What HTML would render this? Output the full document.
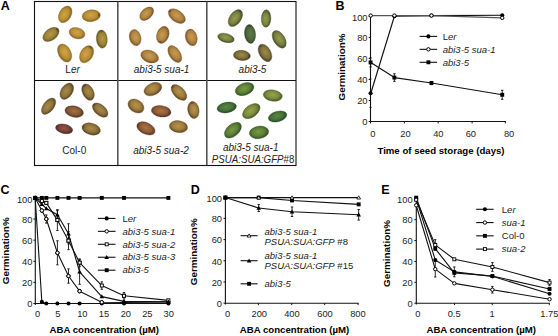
<!DOCTYPE html>
<html><head><meta charset="utf-8"><style>
html,body{margin:0;padding:0;background:#fff;width:558px;height:336px;overflow:hidden}
svg{display:block}
text{font-family:"Liberation Sans",sans-serif}
</style></head><body>
<svg width="558" height="336" viewBox="0 0 558 336" font-family="Liberation Sans, sans-serif"><defs>
<radialGradient id="g_ler" cx="0.48" cy="0.45" r="0.55"><stop offset="0" stop-color="#d2a448"/><stop offset="0.6" stop-color="#b88e36"/><stop offset="0.9" stop-color="#8a6a26"/><stop offset="1" stop-color="#8a6a26"/></radialGradient>
<radialGradient id="g_ler_o" cx="0.48" cy="0.45" r="0.55"><stop offset="0" stop-color="#b49a46"/><stop offset="0.6" stop-color="#9a8238"/><stop offset="0.9" stop-color="#6e5c28"/><stop offset="1" stop-color="#6e5c28"/></radialGradient>
<radialGradient id="g_sua1" cx="0.48" cy="0.45" r="0.55"><stop offset="0" stop-color="#c89c54"/><stop offset="0.6" stop-color="#b08440"/><stop offset="0.9" stop-color="#825a2c"/><stop offset="1" stop-color="#825a2c"/></radialGradient>
<radialGradient id="g_abi" cx="0.48" cy="0.45" r="0.55"><stop offset="0" stop-color="#969c4c"/><stop offset="0.6" stop-color="#788040"/><stop offset="0.9" stop-color="#4c542e"/><stop offset="1" stop-color="#4c542e"/></radialGradient>
<radialGradient id="g_abi_g" cx="0.48" cy="0.45" r="0.55"><stop offset="0" stop-color="#5f7a48"/><stop offset="0.6" stop-color="#4e6a3e"/><stop offset="0.9" stop-color="#3a4a2c"/><stop offset="1" stop-color="#3a4a2c"/></radialGradient>
<radialGradient id="g_abi_b" cx="0.48" cy="0.45" r="0.55"><stop offset="0" stop-color="#9c8c48"/><stop offset="0.6" stop-color="#7e703a"/><stop offset="0.9" stop-color="#56482a"/><stop offset="1" stop-color="#56482a"/></radialGradient>
<radialGradient id="g_col" cx="0.48" cy="0.45" r="0.55"><stop offset="0" stop-color="#a88c4a"/><stop offset="0.6" stop-color="#8e723a"/><stop offset="0.9" stop-color="#5e4a2a"/><stop offset="1" stop-color="#5e4a2a"/></radialGradient>
<radialGradient id="g_col_r" cx="0.48" cy="0.45" r="0.55"><stop offset="0" stop-color="#a0703e"/><stop offset="0.6" stop-color="#875a34"/><stop offset="0.9" stop-color="#5a3a26"/><stop offset="1" stop-color="#5a3a26"/></radialGradient>
<radialGradient id="g_col_p" cx="0.48" cy="0.45" r="0.55"><stop offset="0" stop-color="#945448"/><stop offset="0.6" stop-color="#7a4038"/><stop offset="0.9" stop-color="#52302a"/><stop offset="1" stop-color="#52302a"/></radialGradient>
<radialGradient id="g_sua2" cx="0.48" cy="0.45" r="0.55"><stop offset="0" stop-color="#b8944a"/><stop offset="0.6" stop-color="#9c7a3c"/><stop offset="0.9" stop-color="#6a5028"/><stop offset="1" stop-color="#6a5028"/></radialGradient>
<radialGradient id="g_sua2_r" cx="0.48" cy="0.45" r="0.55"><stop offset="0" stop-color="#aa7444"/><stop offset="0.6" stop-color="#8e5c36"/><stop offset="0.9" stop-color="#603c26"/><stop offset="1" stop-color="#603c26"/></radialGradient>
<radialGradient id="g_gfp" cx="0.48" cy="0.45" r="0.55"><stop offset="0" stop-color="#7c9a44"/><stop offset="0.6" stop-color="#5c7e36"/><stop offset="0.9" stop-color="#36582a"/><stop offset="1" stop-color="#36582a"/></radialGradient>
<radialGradient id="g_gfp_d" cx="0.48" cy="0.45" r="0.55"><stop offset="0" stop-color="#5e8a44"/><stop offset="0.6" stop-color="#467038"/><stop offset="0.9" stop-color="#2a4e2a"/><stop offset="1" stop-color="#2a4e2a"/></radialGradient>
<radialGradient id="g_gfp_y" cx="0.48" cy="0.45" r="0.55"><stop offset="0" stop-color="#98a44c"/><stop offset="0.6" stop-color="#7a8a3c"/><stop offset="0.9" stop-color="#4e602c"/><stop offset="1" stop-color="#4e602c"/></radialGradient>
</defs>
<ellipse cx="65.20" cy="14.40" rx="9.00" ry="6.00" transform="rotate(-60 65.20 14.40)" fill="url(#g_ler)" stroke="#8a6a26" stroke-width="0.6" stroke-opacity="0.55"/>
<ellipse cx="91.20" cy="15.75" rx="9.20" ry="5.90" transform="rotate(-5 91.20 15.75)" fill="url(#g_ler)" stroke="#8a6a26" stroke-width="0.6" stroke-opacity="0.55"/>
<ellipse cx="99.07" cy="15.06" rx="1.2" ry="1.7" transform="rotate(-5 99.07 15.06)" fill="#4a2e34" fill-opacity="0.45"/>
<ellipse cx="51.00" cy="34.40" rx="9.25" ry="5.75" transform="rotate(-37 51.00 34.40)" fill="url(#g_ler_o)" stroke="#6e5c28" stroke-width="0.6" stroke-opacity="0.55"/>
<ellipse cx="57.35" cy="29.62" rx="1.2" ry="1.7" transform="rotate(-37 57.35 29.62)" fill="#4a2e34" fill-opacity="0.45"/>
<ellipse cx="77.00" cy="33.20" rx="8.15" ry="5.50" transform="rotate(16 77.00 33.20)" fill="url(#g_ler)" stroke="#8a6a26" stroke-width="0.6" stroke-opacity="0.55"/>
<ellipse cx="101.80" cy="39.10" rx="9.10" ry="5.50" transform="rotate(85 101.80 39.10)" fill="url(#g_ler_o)" stroke="#6e5c28" stroke-width="0.6" stroke-opacity="0.55"/>
<ellipse cx="101.12" cy="31.33" rx="1.2" ry="1.7" transform="rotate(85 101.12 31.33)" fill="#4a2e34" fill-opacity="0.45"/>
<ellipse cx="64.60" cy="53.00" rx="9.75" ry="6.25" transform="rotate(62 64.60 53.00)" fill="url(#g_ler)" stroke="#8a6a26" stroke-width="0.6" stroke-opacity="0.55"/>
<ellipse cx="86.60" cy="54.20" rx="9.25" ry="6.25" transform="rotate(-60 86.60 54.20)" fill="url(#g_ler)" stroke="#8a6a26" stroke-width="0.6" stroke-opacity="0.55"/>
<ellipse cx="90.57" cy="47.32" rx="1.2" ry="1.7" transform="rotate(-60 90.57 47.32)" fill="#4a2e34" fill-opacity="0.45"/>
<ellipse cx="146.70" cy="13.70" rx="8.25" ry="5.25" transform="rotate(-43 146.70 13.70)" fill="url(#g_sua1)" stroke="#825a2c" stroke-width="0.6" stroke-opacity="0.55"/>
<ellipse cx="176.80" cy="16.10" rx="9.75" ry="5.75" transform="rotate(36 176.80 16.10)" fill="url(#g_sua1)" stroke="#825a2c" stroke-width="0.6" stroke-opacity="0.55"/>
<ellipse cx="169.96" cy="11.13" rx="1.2" ry="1.7" transform="rotate(36 169.96 11.13)" fill="#4a2e34" fill-opacity="0.45"/>
<ellipse cx="135.20" cy="37.65" rx="8.30" ry="5.75" transform="rotate(75 135.20 37.65)" fill="url(#g_sua1)" stroke="#825a2c" stroke-width="0.6" stroke-opacity="0.55"/>
<ellipse cx="162.80" cy="34.85" rx="8.80" ry="6.00" transform="rotate(-70 162.80 34.85)" fill="url(#g_sua1)" stroke="#825a2c" stroke-width="0.6" stroke-opacity="0.55"/>
<ellipse cx="160.23" cy="41.90" rx="1.2" ry="1.7" transform="rotate(-70 160.23 41.90)" fill="#4a2e34" fill-opacity="0.45"/>
<ellipse cx="191.30" cy="37.45" rx="8.50" ry="5.80" transform="rotate(75 191.30 37.45)" fill="url(#g_sua1)" stroke="#825a2c" stroke-width="0.6" stroke-opacity="0.55"/>
<ellipse cx="149.70" cy="56.50" rx="9.25" ry="6.00" transform="rotate(20 149.70 56.50)" fill="url(#g_sua1)" stroke="#825a2c" stroke-width="0.6" stroke-opacity="0.55"/>
<ellipse cx="174.80" cy="54.00" rx="9.50" ry="5.50" transform="rotate(56 174.80 54.00)" fill="url(#g_sua1)" stroke="#825a2c" stroke-width="0.6" stroke-opacity="0.55"/>
<ellipse cx="235.40" cy="18.10" rx="9.50" ry="5.75" transform="rotate(-55 235.40 18.10)" fill="url(#g_abi)" stroke="#4c542e" stroke-width="0.6" stroke-opacity="0.55"/>
<ellipse cx="240.10" cy="11.38" rx="1.2" ry="1.7" transform="rotate(-55 240.10 11.38)" fill="#4a2e34" fill-opacity="0.45"/>
<ellipse cx="266.10" cy="18.55" rx="8.80" ry="4.80" transform="rotate(-88 266.10 18.55)" fill="url(#g_abi)" stroke="#4c542e" stroke-width="0.6" stroke-opacity="0.55"/>
<ellipse cx="225.95" cy="37.95" rx="8.50" ry="4.40" transform="rotate(15 225.95 37.95)" fill="url(#g_abi)" stroke="#4c542e" stroke-width="0.6" stroke-opacity="0.55"/>
<ellipse cx="250.00" cy="34.00" rx="9.50" ry="5.50" transform="rotate(84 250.00 34.00)" fill="url(#g_abi_g)" stroke="#3a4a2c" stroke-width="0.6" stroke-opacity="0.55"/>
<ellipse cx="249.14" cy="25.84" rx="1.2" ry="1.7" transform="rotate(84 249.14 25.84)" fill="#4a2e34" fill-opacity="0.45"/>
<ellipse cx="279.20" cy="39.30" rx="9.75" ry="5.70" transform="rotate(58 279.20 39.30)" fill="url(#g_abi)" stroke="#4c542e" stroke-width="0.6" stroke-opacity="0.55"/>
<ellipse cx="241.90" cy="55.45" rx="8.50" ry="5.10" transform="rotate(5 241.90 55.45)" fill="url(#g_abi_b)" stroke="#56482a" stroke-width="0.6" stroke-opacity="0.55"/>
<ellipse cx="249.07" cy="56.08" rx="1.2" ry="1.7" transform="rotate(5 249.07 56.08)" fill="#4a2e34" fill-opacity="0.45"/>
<ellipse cx="265.00" cy="52.90" rx="9.50" ry="5.75" transform="rotate(60 265.00 52.90)" fill="url(#g_abi_b)" stroke="#56482a" stroke-width="0.6" stroke-opacity="0.55"/>
<ellipse cx="260.90" cy="45.80" rx="1.2" ry="1.7" transform="rotate(60 260.90 45.80)" fill="#4a2e34" fill-opacity="0.45"/>
<ellipse cx="66.80" cy="91.20" rx="9.00" ry="5.75" transform="rotate(-57 66.80 91.20)" fill="url(#g_col)" stroke="#5e4a2a" stroke-width="0.6" stroke-opacity="0.55"/>
<ellipse cx="88.00" cy="92.10" rx="8.75" ry="5.50" transform="rotate(63 88.00 92.10)" fill="url(#g_col)" stroke="#5e4a2a" stroke-width="0.6" stroke-opacity="0.55"/>
<ellipse cx="84.62" cy="85.46" rx="1.2" ry="1.7" transform="rotate(63 84.62 85.46)" fill="#4a2e34" fill-opacity="0.45"/>
<ellipse cx="48.60" cy="106.20" rx="9.50" ry="5.25" transform="rotate(-52 48.60 106.20)" fill="url(#g_col)" stroke="#5e4a2a" stroke-width="0.6" stroke-opacity="0.55"/>
<ellipse cx="74.20" cy="111.60" rx="9.40" ry="5.60" transform="rotate(12 74.20 111.60)" fill="url(#g_col_r)" stroke="#5a3a26" stroke-width="0.6" stroke-opacity="0.55"/>
<ellipse cx="100.20" cy="110.10" rx="9.20" ry="5.25" transform="rotate(40 100.20 110.10)" fill="url(#g_col)" stroke="#5e4a2a" stroke-width="0.6" stroke-opacity="0.55"/>
<ellipse cx="94.15" cy="105.02" rx="1.2" ry="1.7" transform="rotate(40 94.15 105.02)" fill="#4a2e34" fill-opacity="0.45"/>
<ellipse cx="64.15" cy="128.85" rx="8.70" ry="4.70" transform="rotate(12 64.15 128.85)" fill="url(#g_col_p)" stroke="#52302a" stroke-width="0.6" stroke-opacity="0.55"/>
<ellipse cx="56.91" cy="127.31" rx="1.2" ry="1.7" transform="rotate(12 56.91 127.31)" fill="#4a2e34" fill-opacity="0.45"/>
<ellipse cx="91.20" cy="129.00" rx="9.40" ry="5.80" transform="rotate(15 91.20 129.00)" fill="url(#g_col)" stroke="#5e4a2a" stroke-width="0.6" stroke-opacity="0.55"/>
<ellipse cx="83.38" cy="126.90" rx="1.2" ry="1.7" transform="rotate(15 83.38 126.90)" fill="#4a2e34" fill-opacity="0.45"/>
<ellipse cx="152.90" cy="89.10" rx="9.40" ry="6.00" transform="rotate(-25 152.90 89.10)" fill="url(#g_sua2)" stroke="#6a5028" stroke-width="0.6" stroke-opacity="0.55"/>
<ellipse cx="179.00" cy="92.50" rx="9.75" ry="5.50" transform="rotate(45 179.00 92.50)" fill="url(#g_sua2)" stroke="#6a5028" stroke-width="0.6" stroke-opacity="0.55"/>
<ellipse cx="173.02" cy="86.52" rx="1.2" ry="1.7" transform="rotate(45 173.02 86.52)" fill="#4a2e34" fill-opacity="0.45"/>
<ellipse cx="136.00" cy="106.00" rx="8.60" ry="6.25" transform="rotate(33 136.00 106.00)" fill="url(#g_sua2)" stroke="#6a5028" stroke-width="0.6" stroke-opacity="0.55"/>
<ellipse cx="161.20" cy="111.30" rx="9.90" ry="5.70" transform="rotate(8 161.20 111.30)" fill="url(#g_sua2_r)" stroke="#603c26" stroke-width="0.6" stroke-opacity="0.55"/>
<ellipse cx="169.72" cy="112.50" rx="1.2" ry="1.7" transform="rotate(8 169.72 112.50)" fill="#4a2e34" fill-opacity="0.45"/>
<ellipse cx="193.40" cy="109.95" rx="8.60" ry="5.65" transform="rotate(80 193.40 109.95)" fill="url(#g_sua2)" stroke="#6a5028" stroke-width="0.6" stroke-opacity="0.55"/>
<ellipse cx="192.13" cy="102.76" rx="1.2" ry="1.7" transform="rotate(80 192.13 102.76)" fill="#4a2e34" fill-opacity="0.45"/>
<ellipse cx="146.00" cy="128.40" rx="9.75" ry="5.75" transform="rotate(25 146.00 128.40)" fill="url(#g_sua2_r)" stroke="#603c26" stroke-width="0.6" stroke-opacity="0.55"/>
<ellipse cx="138.34" cy="124.83" rx="1.2" ry="1.7" transform="rotate(25 138.34 124.83)" fill="#4a2e34" fill-opacity="0.45"/>
<ellipse cx="178.50" cy="126.60" rx="9.25" ry="6.00" transform="rotate(8 178.50 126.60)" fill="url(#g_sua2)" stroke="#6a5028" stroke-width="0.6" stroke-opacity="0.55"/>
<ellipse cx="244.60" cy="89.10" rx="9.75" ry="6.00" transform="rotate(-20 244.60 89.10)" fill="url(#g_gfp)" stroke="#36582a" stroke-width="0.6" stroke-opacity="0.55"/>
<ellipse cx="272.75" cy="95.50" rx="9.60" ry="5.65" transform="rotate(8 272.75 95.50)" fill="url(#g_gfp_y)" stroke="#4e602c" stroke-width="0.6" stroke-opacity="0.55"/>
<ellipse cx="226.75" cy="107.50" rx="9.80" ry="5.25" transform="rotate(-10 226.75 107.50)" fill="url(#g_gfp_d)" stroke="#2a4e2a" stroke-width="0.6" stroke-opacity="0.55"/>
<ellipse cx="251.30" cy="111.10" rx="10.00" ry="6.00" transform="rotate(-37 251.30 111.10)" fill="url(#g_gfp_y)" stroke="#4e602c" stroke-width="0.6" stroke-opacity="0.55"/>
<ellipse cx="277.60" cy="116.50" rx="9.50" ry="5.20" transform="rotate(-15 277.60 116.50)" fill="url(#g_gfp_d)" stroke="#2a4e2a" stroke-width="0.6" stroke-opacity="0.55"/>
<ellipse cx="232.90" cy="130.20" rx="10.00" ry="6.00" transform="rotate(-40 232.90 130.20)" fill="url(#g_gfp)" stroke="#36582a" stroke-width="0.6" stroke-opacity="0.55"/>
<ellipse cx="259.00" cy="132.40" rx="9.75" ry="6.25" transform="rotate(-9 259.00 132.40)" fill="url(#g_gfp)" stroke="#36582a" stroke-width="0.6" stroke-opacity="0.55"/>
<rect x="34.5" y="1.5" width="261.5" height="164" fill="none" stroke="#111" stroke-width="1.1"/>
<line x1="34.50" y1="80.50" x2="296.00" y2="80.50" stroke="#111" stroke-width="1.1"/>
<line x1="117.80" y1="1.50" x2="117.80" y2="165.00" stroke="#555" stroke-width="1.6"/>
<line x1="206.80" y1="1.50" x2="206.80" y2="165.00" stroke="#555" stroke-width="1.6"/>
<text x="72.60" y="73.20" font-size="10" text-anchor="middle" font-weight="normal" font-style="normal" fill="#222" >L<tspan font-style="italic">er</tspan></text>
<text x="161.60" y="72.80" font-size="10" text-anchor="middle" font-weight="normal" font-style="italic" fill="#222" >abi3-5 sua-1</text>
<text x="252.50" y="72.80" font-size="10" text-anchor="middle" font-weight="normal" font-style="italic" fill="#222" >abi3-5</text>
<text x="74.25" y="154.30" font-size="10" text-anchor="middle" font-weight="normal" font-style="normal" fill="#222" >Col-0</text>
<text x="161.00" y="154.30" font-size="10" text-anchor="middle" font-weight="normal" font-style="italic" fill="#222" >abi3-5 sua-2</text>
<text x="250.70" y="151.00" font-size="10" text-anchor="middle" font-weight="normal" font-style="italic" fill="#222" >abi3-5 sua-1</text>
<text x="211.8" y="163" font-size="10.4" textLength="82.6" lengthAdjust="spacingAndGlyphs" fill="#222"><tspan font-style="italic">PSUA:SUA:GFP</tspan>#8</text>
<text x="0.80" y="10.20" font-size="12.5" text-anchor="start" font-weight="bold" font-style="normal" fill="#000" >A</text>
<text x="335.60" y="10.20" font-size="12.5" text-anchor="start" font-weight="bold" font-style="normal" fill="#000" >B</text>
<text x="0.60" y="194.20" font-size="12.5" text-anchor="start" font-weight="bold" font-style="normal" fill="#000" >C</text>
<text x="190.80" y="194.20" font-size="12.5" text-anchor="start" font-weight="bold" font-style="normal" fill="#000" >D</text>
<text x="381.20" y="194.20" font-size="12.5" text-anchor="start" font-weight="bold" font-style="normal" fill="#000" >E</text>
<line x1="370.50" y1="15.00" x2="370.50" y2="122.00" stroke="#111" stroke-width="1.1"/>
<line x1="370.00" y1="121.50" x2="505.80" y2="121.50" stroke="#111" stroke-width="1.1"/>
<line x1="368.70" y1="121.50" x2="370.50" y2="121.50" stroke="#111" stroke-width="1"/>
<text x="367.50" y="125.30" font-size="9.3" text-anchor="end" font-weight="normal" font-style="normal" fill="#222" >0</text>
<line x1="368.70" y1="100.48" x2="370.50" y2="100.48" stroke="#111" stroke-width="1"/>
<text x="367.50" y="104.28" font-size="9.3" text-anchor="end" font-weight="normal" font-style="normal" fill="#222" >20</text>
<line x1="368.70" y1="79.46" x2="370.50" y2="79.46" stroke="#111" stroke-width="1"/>
<text x="367.50" y="83.26" font-size="9.3" text-anchor="end" font-weight="normal" font-style="normal" fill="#222" >40</text>
<line x1="368.70" y1="58.44" x2="370.50" y2="58.44" stroke="#111" stroke-width="1"/>
<text x="367.50" y="62.24" font-size="9.3" text-anchor="end" font-weight="normal" font-style="normal" fill="#222" >60</text>
<line x1="368.70" y1="37.42" x2="370.50" y2="37.42" stroke="#111" stroke-width="1"/>
<text x="367.50" y="41.22" font-size="9.3" text-anchor="end" font-weight="normal" font-style="normal" fill="#222" >80</text>
<line x1="368.70" y1="16.40" x2="370.50" y2="16.40" stroke="#111" stroke-width="1"/>
<text x="367.50" y="20.90" font-size="9.3" text-anchor="end" font-weight="normal" font-style="normal" fill="#222" >100</text>
<line x1="370.50" y1="121.50" x2="370.50" y2="123.40" stroke="#111" stroke-width="1"/>
<text x="372.75" y="137.00" font-size="9.3" text-anchor="middle" font-weight="normal" font-style="normal" fill="#222" >0</text>
<line x1="404.40" y1="121.50" x2="404.40" y2="123.40" stroke="#111" stroke-width="1"/>
<text x="405.40" y="137.00" font-size="9.3" text-anchor="middle" font-weight="normal" font-style="normal" fill="#222" >20</text>
<line x1="438.20" y1="121.50" x2="438.20" y2="123.40" stroke="#111" stroke-width="1"/>
<text x="438.30" y="137.00" font-size="9.3" text-anchor="middle" font-weight="normal" font-style="normal" fill="#222" >40</text>
<line x1="472.10" y1="121.50" x2="472.10" y2="123.40" stroke="#111" stroke-width="1"/>
<text x="470.80" y="137.00" font-size="9.3" text-anchor="middle" font-weight="normal" font-style="normal" fill="#222" >60</text>
<line x1="505.30" y1="121.50" x2="505.30" y2="123.40" stroke="#111" stroke-width="1"/>
<text x="509.10" y="137.00" font-size="9.3" text-anchor="middle" font-weight="normal" font-style="normal" fill="#222" >80</text>
<text x="441.00" y="153.70" font-size="9.65" text-anchor="middle" font-weight="bold" font-style="normal" fill="#000" >Time of seed storage (days)</text>
<text x="0" y="0" font-size="9.9" font-weight="bold" text-anchor="middle" fill="#000" transform="translate(344.80,67.00) rotate(-90)">Germination%</text>
<line x1="370.50" y1="79.04" x2="370.50" y2="107.42" stroke="#111" stroke-width="0.9"/>
<line x1="369.50" y1="79.04" x2="371.50" y2="79.04" stroke="#111" stroke-width="0.9"/>
<line x1="369.50" y1="107.42" x2="371.50" y2="107.42" stroke="#111" stroke-width="0.9"/>
<polyline points="370.80,62.43 394.39,77.57 431.46,83.03 502.23,94.80" fill="none" stroke="#111" stroke-width="1.15" stroke-linejoin="round"/>
<line x1="370.60" y1="57.91" x2="370.60" y2="66.95" stroke="#111" stroke-width="0.9"/>
<line x1="369.40" y1="57.91" x2="371.80" y2="57.91" stroke="#111" stroke-width="0.9"/>
<line x1="369.40" y1="66.95" x2="371.80" y2="66.95" stroke="#111" stroke-width="0.9"/>
<line x1="394.39" y1="73.78" x2="394.39" y2="81.35" stroke="#111" stroke-width="0.9"/>
<line x1="393.19" y1="73.78" x2="395.59" y2="73.78" stroke="#111" stroke-width="0.9"/>
<line x1="393.19" y1="81.35" x2="395.59" y2="81.35" stroke="#111" stroke-width="0.9"/>
<line x1="431.46" y1="81.46" x2="431.46" y2="84.61" stroke="#111" stroke-width="0.9"/>
<line x1="430.26" y1="81.46" x2="432.66" y2="81.46" stroke="#111" stroke-width="0.9"/>
<line x1="430.26" y1="84.61" x2="432.66" y2="84.61" stroke="#111" stroke-width="0.9"/>
<line x1="502.23" y1="90.29" x2="502.23" y2="99.32" stroke="#111" stroke-width="0.9"/>
<line x1="501.03" y1="90.29" x2="503.43" y2="90.29" stroke="#111" stroke-width="0.9"/>
<line x1="501.03" y1="99.32" x2="503.43" y2="99.32" stroke="#111" stroke-width="0.9"/>
<polyline points="370.80,93.23 394.39,16.29 431.46,15.56 502.23,15.24" fill="none" stroke="#111" stroke-width="1.15" stroke-linejoin="round"/>
<polyline points="370.80,15.56 394.39,15.56 431.46,15.56 502.23,17.87" fill="none" stroke="#555" stroke-width="1.3" stroke-linejoin="round"/>
<rect x="368.65" y="60.48" width="3.90" height="3.90" fill="#000"/>
<rect x="392.44" y="75.62" width="3.90" height="3.90" fill="#000"/>
<rect x="429.51" y="81.08" width="3.90" height="3.90" fill="#000"/>
<rect x="500.28" y="92.85" width="3.90" height="3.90" fill="#000"/>
<circle cx="370.60" cy="93.23" r="2.05" fill="#000"/>
<circle cx="394.39" cy="16.29" r="2.05" fill="#000"/>
<circle cx="431.46" cy="15.56" r="2.05" fill="#000"/>
<circle cx="502.23" cy="15.24" r="2.05" fill="#000"/>
<circle cx="370.70" cy="15.56" r="1.70" fill="#fff" stroke="#000" stroke-width="1.0"/>
<circle cx="394.39" cy="15.56" r="1.70" fill="#fff" stroke="#000" stroke-width="1.0"/>
<circle cx="431.46" cy="15.56" r="1.70" fill="#fff" stroke="#000" stroke-width="1.0"/>
<circle cx="502.23" cy="17.87" r="1.70" fill="#fff" stroke="#000" stroke-width="1.0"/>
<line x1="419.60" y1="36.40" x2="437.10" y2="36.40" stroke="#111" stroke-width="1.1"/>
<circle cx="428.40" cy="36.40" r="2.05" fill="#000"/>
<text x="442.70" y="39.70" font-size="9.5" text-anchor="start" font-weight="normal" font-style="normal" fill="#222" >L<tspan font-style="italic">er</tspan></text>
<line x1="419.60" y1="49.35" x2="437.10" y2="49.35" stroke="#111" stroke-width="1.1"/>
<circle cx="428.40" cy="49.35" r="1.70" fill="#fff" stroke="#000" stroke-width="1.0"/>
<text x="442.70" y="52.65" font-size="9.5" text-anchor="start" font-weight="normal" font-style="italic" fill="#222" >abi3-5 sua-1</text>
<line x1="419.60" y1="62.30" x2="437.10" y2="62.30" stroke="#111" stroke-width="1.1"/>
<rect x="426.45" y="60.35" width="3.90" height="3.90" fill="#000"/>
<text x="442.70" y="65.60" font-size="9.5" text-anchor="start" font-weight="normal" font-style="italic" fill="#222" >abi3-5</text>
<line x1="35.30" y1="197.40" x2="35.30" y2="305.00" stroke="#111" stroke-width="1.1"/>
<line x1="34.80" y1="303.50" x2="168.60" y2="303.50" stroke="#111" stroke-width="1.1"/>
<line x1="33.40" y1="303.50" x2="35.30" y2="303.50" stroke="#111" stroke-width="1"/>
<text x="32.40" y="307.30" font-size="9.3" text-anchor="end" font-weight="normal" font-style="normal" fill="#222" >0</text>
<line x1="33.40" y1="282.38" x2="35.30" y2="282.38" stroke="#111" stroke-width="1"/>
<text x="32.40" y="286.18" font-size="9.3" text-anchor="end" font-weight="normal" font-style="normal" fill="#222" >20</text>
<line x1="33.40" y1="261.26" x2="35.30" y2="261.26" stroke="#111" stroke-width="1"/>
<text x="32.40" y="265.06" font-size="9.3" text-anchor="end" font-weight="normal" font-style="normal" fill="#222" >40</text>
<line x1="33.40" y1="240.14" x2="35.30" y2="240.14" stroke="#111" stroke-width="1"/>
<text x="32.40" y="243.94" font-size="9.3" text-anchor="end" font-weight="normal" font-style="normal" fill="#222" >60</text>
<line x1="33.40" y1="219.02" x2="35.30" y2="219.02" stroke="#111" stroke-width="1"/>
<text x="32.40" y="222.82" font-size="9.3" text-anchor="end" font-weight="normal" font-style="normal" fill="#222" >80</text>
<line x1="33.40" y1="197.90" x2="35.30" y2="197.90" stroke="#111" stroke-width="1"/>
<text x="32.40" y="202.50" font-size="9.3" text-anchor="end" font-weight="normal" font-style="normal" fill="#222" >100</text>
<text x="37.70" y="317.40" font-size="9.3" text-anchor="middle" font-weight="normal" font-style="normal" fill="#222" >0</text>
<text x="57.80" y="317.40" font-size="9.3" text-anchor="middle" font-weight="normal" font-style="normal" fill="#222" >5</text>
<text x="82.30" y="317.40" font-size="9.3" text-anchor="middle" font-weight="normal" font-style="normal" fill="#222" >10</text>
<text x="104.00" y="317.40" font-size="9.3" text-anchor="middle" font-weight="normal" font-style="normal" fill="#222" >15</text>
<text x="125.80" y="317.40" font-size="9.3" text-anchor="middle" font-weight="normal" font-style="normal" fill="#222" >20</text>
<text x="147.30" y="317.40" font-size="9.3" text-anchor="middle" font-weight="normal" font-style="normal" fill="#222" >25</text>
<text x="168.70" y="317.40" font-size="9.3" text-anchor="middle" font-weight="normal" font-style="normal" fill="#222" >30</text>
<text x="104.30" y="333.00" font-size="9.65" text-anchor="middle" font-weight="bold" font-style="normal" fill="#000" >ABA concentration (µM)</text>
<text x="0" y="0" font-size="9.9" font-weight="bold" text-anchor="middle" fill="#000" transform="translate(9.20,250.80) rotate(-90)">Germination%</text>
<polyline points="35.20,197.90 41.86,210.57 46.30,219.02 57.40,252.81 68.50,276.04 79.60,291.14 101.80,302.23 124.00,302.44 168.40,301.92" fill="none" stroke="#111" stroke-width="1.1" stroke-linejoin="round"/>
<polyline points="35.20,197.90 41.86,201.07 46.30,202.86 57.40,220.08 68.50,240.67 79.60,262.63 101.80,285.55 124.00,295.79 168.40,300.33" fill="none" stroke="#111" stroke-width="1.1" stroke-linejoin="round"/>
<polyline points="35.20,197.90 41.86,204.24 46.30,208.46 57.40,214.80 68.50,233.80 79.60,271.82 101.80,296.64 124.00,301.39 168.40,301.92" fill="none" stroke="#111" stroke-width="1.1" stroke-linejoin="round"/>
<polyline points="35.20,197.90 41.86,301.92 46.30,303.50 57.40,303.50 68.50,303.50 79.60,303.50 101.80,303.50 124.00,303.50 168.40,303.50" fill="none" stroke="#111" stroke-width="1.1" stroke-linejoin="round"/>
<polyline points="35.20,197.90 41.86,197.90 46.30,197.90 57.40,197.90 68.50,197.90 79.60,197.90 101.80,197.90 124.00,197.90 168.40,197.90" fill="none" stroke="#111" stroke-width="1.1" stroke-linejoin="round"/>
<line x1="46.30" y1="214.90" x2="46.30" y2="223.14" stroke="#111" stroke-width="0.9"/>
<line x1="45.10" y1="214.90" x2="47.50" y2="214.90" stroke="#111" stroke-width="0.9"/>
<line x1="45.10" y1="223.14" x2="47.50" y2="223.14" stroke="#111" stroke-width="0.9"/>
<line x1="57.40" y1="240.77" x2="57.40" y2="264.85" stroke="#111" stroke-width="0.9"/>
<line x1="56.20" y1="240.77" x2="58.60" y2="240.77" stroke="#111" stroke-width="0.9"/>
<line x1="56.20" y1="264.85" x2="58.60" y2="264.85" stroke="#111" stroke-width="0.9"/>
<line x1="68.50" y1="268.86" x2="68.50" y2="283.22" stroke="#111" stroke-width="0.9"/>
<line x1="67.30" y1="268.86" x2="69.70" y2="268.86" stroke="#111" stroke-width="0.9"/>
<line x1="67.30" y1="283.22" x2="69.70" y2="283.22" stroke="#111" stroke-width="0.9"/>
<line x1="79.60" y1="289.56" x2="79.60" y2="292.73" stroke="#111" stroke-width="0.9"/>
<line x1="78.40" y1="289.56" x2="80.80" y2="289.56" stroke="#111" stroke-width="0.9"/>
<line x1="78.40" y1="292.73" x2="80.80" y2="292.73" stroke="#111" stroke-width="0.9"/>
<line x1="57.40" y1="209.62" x2="57.40" y2="230.53" stroke="#111" stroke-width="0.9"/>
<line x1="56.20" y1="209.62" x2="58.60" y2="209.62" stroke="#111" stroke-width="0.9"/>
<line x1="56.20" y1="230.53" x2="58.60" y2="230.53" stroke="#111" stroke-width="0.9"/>
<line x1="68.50" y1="231.69" x2="68.50" y2="249.64" stroke="#111" stroke-width="0.9"/>
<line x1="67.30" y1="231.69" x2="69.70" y2="231.69" stroke="#111" stroke-width="0.9"/>
<line x1="67.30" y1="249.64" x2="69.70" y2="249.64" stroke="#111" stroke-width="0.9"/>
<line x1="79.60" y1="258.94" x2="79.60" y2="266.33" stroke="#111" stroke-width="0.9"/>
<line x1="78.40" y1="258.94" x2="80.80" y2="258.94" stroke="#111" stroke-width="0.9"/>
<line x1="78.40" y1="266.33" x2="80.80" y2="266.33" stroke="#111" stroke-width="0.9"/>
<line x1="101.80" y1="281.85" x2="101.80" y2="289.24" stroke="#111" stroke-width="0.9"/>
<line x1="100.60" y1="281.85" x2="103.00" y2="281.85" stroke="#111" stroke-width="0.9"/>
<line x1="100.60" y1="289.24" x2="103.00" y2="289.24" stroke="#111" stroke-width="0.9"/>
<line x1="124.00" y1="292.52" x2="124.00" y2="299.06" stroke="#111" stroke-width="0.9"/>
<line x1="122.80" y1="292.52" x2="125.20" y2="292.52" stroke="#111" stroke-width="0.9"/>
<line x1="122.80" y1="299.06" x2="125.20" y2="299.06" stroke="#111" stroke-width="0.9"/>
<line x1="57.40" y1="210.57" x2="57.40" y2="219.02" stroke="#111" stroke-width="0.9"/>
<line x1="56.20" y1="210.57" x2="58.60" y2="210.57" stroke="#111" stroke-width="0.9"/>
<line x1="56.20" y1="219.02" x2="58.60" y2="219.02" stroke="#111" stroke-width="0.9"/>
<line x1="68.50" y1="223.77" x2="68.50" y2="243.84" stroke="#111" stroke-width="0.9"/>
<line x1="67.30" y1="223.77" x2="69.70" y2="223.77" stroke="#111" stroke-width="0.9"/>
<line x1="67.30" y1="243.84" x2="69.70" y2="243.84" stroke="#111" stroke-width="0.9"/>
<line x1="79.60" y1="259.36" x2="79.60" y2="284.28" stroke="#111" stroke-width="0.9"/>
<line x1="78.40" y1="259.36" x2="80.80" y2="259.36" stroke="#111" stroke-width="0.9"/>
<line x1="78.40" y1="284.28" x2="80.80" y2="284.28" stroke="#111" stroke-width="0.9"/>
<circle cx="35.20" cy="197.90" r="1.70" fill="#fff" stroke="#000" stroke-width="1.0"/>
<circle cx="41.86" cy="210.57" r="1.70" fill="#fff" stroke="#000" stroke-width="1.0"/>
<circle cx="46.30" cy="219.02" r="1.70" fill="#fff" stroke="#000" stroke-width="1.0"/>
<circle cx="57.40" cy="252.81" r="1.70" fill="#fff" stroke="#000" stroke-width="1.0"/>
<circle cx="68.50" cy="276.04" r="1.70" fill="#fff" stroke="#000" stroke-width="1.0"/>
<circle cx="79.60" cy="291.14" r="1.70" fill="#fff" stroke="#000" stroke-width="1.0"/>
<circle cx="101.80" cy="302.23" r="1.70" fill="#fff" stroke="#000" stroke-width="1.0"/>
<circle cx="124.00" cy="302.44" r="1.70" fill="#fff" stroke="#000" stroke-width="1.0"/>
<circle cx="168.40" cy="301.92" r="1.70" fill="#fff" stroke="#000" stroke-width="1.0"/>
<rect x="33.70" y="196.40" width="3.00" height="3.00" fill="#fff" stroke="#000" stroke-width="0.9"/>
<rect x="40.36" y="199.57" width="3.00" height="3.00" fill="#fff" stroke="#000" stroke-width="0.9"/>
<rect x="44.80" y="201.36" width="3.00" height="3.00" fill="#fff" stroke="#000" stroke-width="0.9"/>
<rect x="55.90" y="218.58" width="3.00" height="3.00" fill="#fff" stroke="#000" stroke-width="0.9"/>
<rect x="67.00" y="239.17" width="3.00" height="3.00" fill="#fff" stroke="#000" stroke-width="0.9"/>
<rect x="78.10" y="261.13" width="3.00" height="3.00" fill="#fff" stroke="#000" stroke-width="0.9"/>
<rect x="100.30" y="284.05" width="3.00" height="3.00" fill="#fff" stroke="#000" stroke-width="0.9"/>
<rect x="122.50" y="294.29" width="3.00" height="3.00" fill="#fff" stroke="#000" stroke-width="0.9"/>
<rect x="166.90" y="298.83" width="3.00" height="3.00" fill="#fff" stroke="#000" stroke-width="0.9"/>
<path d="M35.20,195.60 L37.50,199.62 L32.90,199.62Z" fill="#000"/>
<path d="M41.86,201.94 L44.16,205.96 L39.56,205.96Z" fill="#000"/>
<path d="M46.30,206.16 L48.60,210.18 L44.00,210.18Z" fill="#000"/>
<path d="M57.40,212.50 L59.70,216.52 L55.10,216.52Z" fill="#000"/>
<path d="M68.50,231.50 L70.80,235.53 L66.20,235.53Z" fill="#000"/>
<path d="M79.60,269.52 L81.90,273.55 L77.30,273.55Z" fill="#000"/>
<path d="M101.80,294.34 L104.10,298.36 L99.50,298.36Z" fill="#000"/>
<path d="M124.00,299.09 L126.30,303.11 L121.70,303.11Z" fill="#000"/>
<path d="M168.40,299.62 L170.70,303.64 L166.10,303.64Z" fill="#000"/>
<circle cx="35.20" cy="197.90" r="2.05" fill="#000"/>
<circle cx="41.86" cy="301.92" r="2.05" fill="#000"/>
<circle cx="46.30" cy="303.50" r="2.05" fill="#000"/>
<circle cx="57.40" cy="303.50" r="2.05" fill="#000"/>
<circle cx="68.50" cy="303.50" r="2.05" fill="#000"/>
<circle cx="79.60" cy="303.50" r="2.05" fill="#000"/>
<circle cx="101.80" cy="303.50" r="2.05" fill="#000"/>
<circle cx="124.00" cy="303.50" r="2.05" fill="#000"/>
<circle cx="168.40" cy="303.50" r="2.05" fill="#000"/>
<rect x="33.25" y="195.95" width="3.90" height="3.90" fill="#000"/>
<rect x="39.91" y="195.95" width="3.90" height="3.90" fill="#000"/>
<rect x="44.35" y="195.95" width="3.90" height="3.90" fill="#000"/>
<rect x="55.45" y="195.95" width="3.90" height="3.90" fill="#000"/>
<rect x="66.55" y="195.95" width="3.90" height="3.90" fill="#000"/>
<rect x="77.65" y="195.95" width="3.90" height="3.90" fill="#000"/>
<rect x="99.85" y="195.95" width="3.90" height="3.90" fill="#000"/>
<rect x="122.05" y="195.95" width="3.90" height="3.90" fill="#000"/>
<rect x="166.45" y="195.95" width="3.90" height="3.90" fill="#000"/>
<rect x="40.36" y="199.57" width="3.00" height="3.00" fill="#fff" stroke="#000" stroke-width="0.9"/>
<rect x="44.80" y="201.36" width="3.00" height="3.00" fill="#fff" stroke="#000" stroke-width="0.9"/>
<rect x="55.90" y="218.58" width="3.00" height="3.00" fill="#fff" stroke="#000" stroke-width="0.9"/>
<rect x="67.00" y="239.17" width="3.00" height="3.00" fill="#fff" stroke="#000" stroke-width="0.9"/>
<rect x="78.10" y="261.13" width="3.00" height="3.00" fill="#fff" stroke="#000" stroke-width="0.9"/>
<circle cx="41.86" cy="210.57" r="1.70" fill="#fff" stroke="#000" stroke-width="1.0"/>
<circle cx="46.30" cy="219.02" r="1.70" fill="#fff" stroke="#000" stroke-width="1.0"/>
<circle cx="57.40" cy="252.81" r="1.70" fill="#fff" stroke="#000" stroke-width="1.0"/>
<circle cx="68.50" cy="276.04" r="1.70" fill="#fff" stroke="#000" stroke-width="1.0"/>
<circle cx="79.60" cy="291.14" r="1.70" fill="#fff" stroke="#000" stroke-width="1.0"/>
<circle cx="101.80" cy="302.23" r="1.70" fill="#fff" stroke="#000" stroke-width="1.0"/>
<rect x="122.50" y="294.29" width="3.00" height="3.00" fill="#fff" stroke="#000" stroke-width="0.9"/>
<line x1="97.90" y1="218.40" x2="115.50" y2="218.40" stroke="#111" stroke-width="1.1"/>
<circle cx="106.70" cy="218.40" r="2.05" fill="#000"/>
<text x="122.50" y="221.60" font-size="9.5" text-anchor="start" font-weight="normal" font-style="normal" fill="#222" >L<tspan font-style="italic">er</tspan></text>
<line x1="97.90" y1="231.35" x2="115.50" y2="231.35" stroke="#111" stroke-width="1.1"/>
<circle cx="106.70" cy="231.35" r="1.70" fill="#fff" stroke="#000" stroke-width="1.0"/>
<text x="122.50" y="234.55" font-size="9.5" text-anchor="start" font-weight="normal" font-style="italic" fill="#222" >abi3-5 sua-1</text>
<line x1="97.90" y1="244.30" x2="115.50" y2="244.30" stroke="#111" stroke-width="1.1"/>
<rect x="105.20" y="242.80" width="3.00" height="3.00" fill="#fff" stroke="#000" stroke-width="0.9"/>
<text x="122.50" y="247.50" font-size="9.5" text-anchor="start" font-weight="normal" font-style="italic" fill="#222" >abi3-5 sua-2</text>
<line x1="97.90" y1="257.25" x2="115.50" y2="257.25" stroke="#111" stroke-width="1.1"/>
<path d="M106.70,254.95 L109.00,258.98 L104.40,258.98Z" fill="#000"/>
<text x="122.50" y="260.45" font-size="9.5" text-anchor="start" font-weight="normal" font-style="italic" fill="#222" >abi3-5 sua-3</text>
<line x1="97.90" y1="270.20" x2="115.50" y2="270.20" stroke="#111" stroke-width="1.1"/>
<rect x="104.75" y="268.25" width="3.90" height="3.90" fill="#000"/>
<text x="122.50" y="273.40" font-size="9.5" text-anchor="start" font-weight="normal" font-style="italic" fill="#222" >abi3-5</text>
<line x1="225.40" y1="197.40" x2="225.40" y2="304.60" stroke="#111" stroke-width="1.1"/>
<line x1="224.90" y1="303.20" x2="358.60" y2="303.20" stroke="#111" stroke-width="1.1"/>
<line x1="223.50" y1="303.20" x2="225.40" y2="303.20" stroke="#111" stroke-width="1"/>
<text x="222.00" y="307.00" font-size="9.3" text-anchor="end" font-weight="normal" font-style="normal" fill="#222" >0</text>
<line x1="223.50" y1="282.00" x2="225.40" y2="282.00" stroke="#111" stroke-width="1"/>
<text x="222.00" y="285.80" font-size="9.3" text-anchor="end" font-weight="normal" font-style="normal" fill="#222" >20</text>
<line x1="223.50" y1="260.80" x2="225.40" y2="260.80" stroke="#111" stroke-width="1"/>
<text x="222.00" y="264.60" font-size="9.3" text-anchor="end" font-weight="normal" font-style="normal" fill="#222" >40</text>
<line x1="223.50" y1="239.60" x2="225.40" y2="239.60" stroke="#111" stroke-width="1"/>
<text x="222.00" y="243.40" font-size="9.3" text-anchor="end" font-weight="normal" font-style="normal" fill="#222" >60</text>
<line x1="223.50" y1="218.40" x2="225.40" y2="218.40" stroke="#111" stroke-width="1"/>
<text x="222.00" y="222.20" font-size="9.3" text-anchor="end" font-weight="normal" font-style="normal" fill="#222" >80</text>
<line x1="223.50" y1="197.20" x2="225.40" y2="197.20" stroke="#111" stroke-width="1"/>
<text x="222.00" y="201.80" font-size="9.3" text-anchor="end" font-weight="normal" font-style="normal" fill="#222" >100</text>
<text x="227.50" y="317.40" font-size="9.3" text-anchor="middle" font-weight="normal" font-style="normal" fill="#222" >0</text>
<line x1="258.40" y1="303.20" x2="258.40" y2="305.10" stroke="#111" stroke-width="1"/>
<text x="259.30" y="317.40" font-size="9.3" text-anchor="middle" font-weight="normal" font-style="normal" fill="#222" >200</text>
<line x1="291.70" y1="303.20" x2="291.70" y2="305.10" stroke="#111" stroke-width="1"/>
<text x="291.90" y="317.40" font-size="9.3" text-anchor="middle" font-weight="normal" font-style="normal" fill="#222" >400</text>
<line x1="324.70" y1="303.20" x2="324.70" y2="305.10" stroke="#111" stroke-width="1"/>
<text x="325.00" y="317.40" font-size="9.3" text-anchor="middle" font-weight="normal" font-style="normal" fill="#222" >600</text>
<line x1="358.10" y1="303.20" x2="358.10" y2="305.10" stroke="#111" stroke-width="1"/>
<text x="357.90" y="317.40" font-size="9.3" text-anchor="middle" font-weight="normal" font-style="normal" fill="#222" >800</text>
<text x="294.50" y="333.00" font-size="9.65" text-anchor="middle" font-weight="bold" font-style="normal" fill="#000" >ABA concentration (µM)</text>
<text x="0" y="0" font-size="9.9" font-weight="bold" text-anchor="middle" fill="#000" transform="translate(197.20,251.80) rotate(-90)">Germination%</text>
<polyline points="225.40,197.60 258.72,208.05 292.04,211.75 358.68,214.81" fill="none" stroke="#111" stroke-width="1.1" stroke-linejoin="round"/>
<polyline points="225.40,197.60 258.72,197.60 292.04,200.45 358.68,204.36" fill="none" stroke="#111" stroke-width="1.1" stroke-linejoin="round"/>
<polyline points="225.40,197.60 258.72,197.60 292.04,197.60 358.68,197.60" fill="none" stroke="#111" stroke-width="1.1" stroke-linejoin="round"/>
<line x1="258.72" y1="204.57" x2="258.72" y2="211.54" stroke="#111" stroke-width="0.9"/>
<line x1="257.52" y1="204.57" x2="259.92" y2="204.57" stroke="#111" stroke-width="0.9"/>
<line x1="257.52" y1="211.54" x2="259.92" y2="211.54" stroke="#111" stroke-width="0.9"/>
<line x1="292.04" y1="207.00" x2="292.04" y2="216.50" stroke="#111" stroke-width="0.9"/>
<line x1="290.84" y1="207.00" x2="293.24" y2="207.00" stroke="#111" stroke-width="0.9"/>
<line x1="290.84" y1="216.50" x2="293.24" y2="216.50" stroke="#111" stroke-width="0.9"/>
<line x1="358.68" y1="209.53" x2="358.68" y2="220.09" stroke="#111" stroke-width="0.9"/>
<line x1="357.48" y1="209.53" x2="359.88" y2="209.53" stroke="#111" stroke-width="0.9"/>
<line x1="357.48" y1="220.09" x2="359.88" y2="220.09" stroke="#111" stroke-width="0.9"/>
<path d="M225.40,195.30 L227.70,199.32 L223.10,199.32Z" fill="#000"/>
<path d="M258.72,205.75 L261.02,209.78 L256.42,209.78Z" fill="#000"/>
<path d="M292.04,209.45 L294.34,213.48 L289.74,213.48Z" fill="#000"/>
<path d="M358.68,212.51 L360.98,216.54 L356.38,216.54Z" fill="#000"/>
<rect x="223.45" y="195.65" width="3.90" height="3.90" fill="#000"/>
<rect x="256.77" y="195.65" width="3.90" height="3.90" fill="#000"/>
<rect x="290.09" y="198.50" width="3.90" height="3.90" fill="#000"/>
<rect x="356.73" y="202.41" width="3.90" height="3.90" fill="#000"/>
<path d="M258.72,195.80 L260.61,199.04 L256.83,199.04Z" fill="#fff" stroke="#000" stroke-width="0.8"/>
<path d="M292.04,195.80 L293.93,199.04 L290.15,199.04Z" fill="#fff" stroke="#000" stroke-width="0.8"/>
<path d="M358.68,195.80 L360.57,199.04 L356.79,199.04Z" fill="#fff" stroke="#000" stroke-width="0.8"/>
<rect x="223.45" y="195.65" width="3.90" height="3.90" fill="#000"/>
<line x1="240.60" y1="235.70" x2="257.60" y2="235.70" stroke="#111" stroke-width="1.1"/>
<path d="M249.10,233.90 L250.99,237.14 L247.21,237.14Z" fill="#fff" stroke="#000" stroke-width="0.8"/>
<text x="264.50" y="234.60" font-size="9.5" text-anchor="start" font-weight="normal" font-style="italic" fill="#222" >abi3-5 sua-1</text>
<text x="264.5" y="244.6" font-size="9.5" fill="#222"><tspan font-style="italic">PSUA:SUA:GFP</tspan> #8</text>
<line x1="240.60" y1="260.70" x2="257.60" y2="260.70" stroke="#111" stroke-width="1.1"/>
<path d="M249.10,258.40 L251.40,262.43 L246.80,262.43Z" fill="#000"/>
<text x="264.50" y="258.70" font-size="9.5" text-anchor="start" font-weight="normal" font-style="italic" fill="#222" >abi3-5 sua-1</text>
<text x="264.5" y="268.8" font-size="9.5" fill="#222"><tspan font-style="italic">PSUA:SUA:GFP</tspan> #15</text>
<line x1="240.60" y1="283.80" x2="257.60" y2="283.80" stroke="#111" stroke-width="1.1"/>
<rect x="247.15" y="281.85" width="3.90" height="3.90" fill="#000"/>
<text x="264.50" y="287.40" font-size="9.5" text-anchor="start" font-weight="normal" font-style="italic" fill="#222" >abi3-5</text>
<line x1="416.30" y1="199.00" x2="416.30" y2="304.40" stroke="#111" stroke-width="1.1"/>
<line x1="415.80" y1="303.20" x2="549.80" y2="303.20" stroke="#111" stroke-width="1.1"/>
<line x1="414.40" y1="303.20" x2="416.30" y2="303.20" stroke="#111" stroke-width="1"/>
<text x="412.60" y="307.00" font-size="9.3" text-anchor="end" font-weight="normal" font-style="normal" fill="#222" >0</text>
<line x1="414.40" y1="282.32" x2="416.30" y2="282.32" stroke="#111" stroke-width="1"/>
<text x="412.60" y="286.12" font-size="9.3" text-anchor="end" font-weight="normal" font-style="normal" fill="#222" >20</text>
<line x1="414.40" y1="261.44" x2="416.30" y2="261.44" stroke="#111" stroke-width="1"/>
<text x="412.60" y="265.24" font-size="9.3" text-anchor="end" font-weight="normal" font-style="normal" fill="#222" >40</text>
<line x1="414.40" y1="240.56" x2="416.30" y2="240.56" stroke="#111" stroke-width="1"/>
<text x="412.60" y="244.36" font-size="9.3" text-anchor="end" font-weight="normal" font-style="normal" fill="#222" >60</text>
<line x1="414.40" y1="219.68" x2="416.30" y2="219.68" stroke="#111" stroke-width="1"/>
<text x="412.60" y="223.48" font-size="9.3" text-anchor="end" font-weight="normal" font-style="normal" fill="#222" >80</text>
<line x1="414.40" y1="198.80" x2="416.30" y2="198.80" stroke="#111" stroke-width="1"/>
<text x="412.60" y="203.20" font-size="9.3" text-anchor="end" font-weight="normal" font-style="normal" fill="#222" >100</text>
<text x="417.90" y="316.80" font-size="9.3" text-anchor="middle" font-weight="normal" font-style="normal" fill="#222" >0</text>
<line x1="454.50" y1="303.20" x2="454.50" y2="305.10" stroke="#111" stroke-width="1"/>
<text x="454.10" y="316.80" font-size="9.3" text-anchor="middle" font-weight="normal" font-style="normal" fill="#222" >0.5</text>
<line x1="492.30" y1="303.20" x2="492.30" y2="305.10" stroke="#111" stroke-width="1"/>
<text x="492.00" y="316.80" font-size="9.3" text-anchor="middle" font-weight="normal" font-style="normal" fill="#222" >1</text>
<line x1="549.30" y1="303.20" x2="549.30" y2="305.10" stroke="#111" stroke-width="1"/>
<text x="549.30" y="316.80" font-size="9.3" text-anchor="middle" font-weight="normal" font-style="normal" fill="#222" >1.75</text>
<text x="481.20" y="333.00" font-size="9.65" text-anchor="middle" font-weight="bold" font-style="normal" fill="#000" >ABA concentration (µM)</text>
<text x="0" y="0" font-size="9.9" font-weight="bold" text-anchor="middle" fill="#000" transform="translate(389.50,253.50) rotate(-90)">Germination%</text>
<polyline points="416.20,198.70 435.25,259.94 454.30,271.85 492.40,276.34 549.55,293.80" fill="none" stroke="#111" stroke-width="1.1" stroke-linejoin="round"/>
<polyline points="416.20,205.28 435.25,269.13 454.30,283.34 492.40,289.72 549.55,299.23" fill="none" stroke="#111" stroke-width="1.1" stroke-linejoin="round"/>
<polyline points="416.20,197.66 435.25,248.65 454.30,272.89 492.40,276.03 549.55,288.99" fill="none" stroke="#111" stroke-width="1.1" stroke-linejoin="round"/>
<polyline points="416.20,199.75 435.25,244.89 454.30,259.31 492.40,266.94 549.55,282.61" fill="none" stroke="#111" stroke-width="1.1" stroke-linejoin="round"/>
<line x1="435.25" y1="239.66" x2="435.25" y2="250.11" stroke="#111" stroke-width="0.9"/>
<line x1="434.05" y1="239.66" x2="436.45" y2="239.66" stroke="#111" stroke-width="0.9"/>
<line x1="434.05" y1="250.11" x2="436.45" y2="250.11" stroke="#111" stroke-width="0.9"/>
<line x1="435.25" y1="261.30" x2="435.25" y2="276.97" stroke="#111" stroke-width="0.9"/>
<line x1="434.05" y1="261.30" x2="436.45" y2="261.30" stroke="#111" stroke-width="0.9"/>
<line x1="434.05" y1="276.97" x2="436.45" y2="276.97" stroke="#111" stroke-width="0.9"/>
<line x1="454.30" y1="266.94" x2="454.30" y2="276.76" stroke="#111" stroke-width="0.9"/>
<line x1="453.10" y1="266.94" x2="455.50" y2="266.94" stroke="#111" stroke-width="0.9"/>
<line x1="453.10" y1="276.76" x2="455.50" y2="276.76" stroke="#111" stroke-width="0.9"/>
<line x1="492.40" y1="262.55" x2="492.40" y2="271.33" stroke="#111" stroke-width="0.9"/>
<line x1="491.20" y1="262.55" x2="493.60" y2="262.55" stroke="#111" stroke-width="0.9"/>
<line x1="491.20" y1="271.33" x2="493.60" y2="271.33" stroke="#111" stroke-width="0.9"/>
<line x1="492.40" y1="286.38" x2="492.40" y2="293.06" stroke="#111" stroke-width="0.9"/>
<line x1="491.20" y1="286.38" x2="493.60" y2="286.38" stroke="#111" stroke-width="0.9"/>
<line x1="491.20" y1="293.06" x2="493.60" y2="293.06" stroke="#111" stroke-width="0.9"/>
<line x1="549.55" y1="279.48" x2="549.55" y2="285.75" stroke="#111" stroke-width="0.9"/>
<line x1="548.35" y1="279.48" x2="550.75" y2="279.48" stroke="#111" stroke-width="0.9"/>
<line x1="548.35" y1="285.75" x2="550.75" y2="285.75" stroke="#111" stroke-width="0.9"/>
<rect x="414.25" y="195.71" width="3.90" height="3.90" fill="#000"/>
<rect x="433.30" y="246.70" width="3.90" height="3.90" fill="#000"/>
<rect x="452.35" y="270.94" width="3.90" height="3.90" fill="#000"/>
<rect x="490.45" y="274.08" width="3.90" height="3.90" fill="#000"/>
<rect x="547.60" y="287.04" width="3.90" height="3.90" fill="#000"/>
<circle cx="416.20" cy="198.70" r="2.05" fill="#000"/>
<circle cx="435.25" cy="259.94" r="2.05" fill="#000"/>
<circle cx="454.30" cy="271.85" r="2.05" fill="#000"/>
<circle cx="492.40" cy="276.34" r="2.05" fill="#000"/>
<circle cx="549.55" cy="293.80" r="2.05" fill="#000"/>
<rect x="414.70" y="198.25" width="3.00" height="3.00" fill="#fff" stroke="#000" stroke-width="0.9"/>
<rect x="433.75" y="243.39" width="3.00" height="3.00" fill="#fff" stroke="#000" stroke-width="0.9"/>
<rect x="452.80" y="257.81" width="3.00" height="3.00" fill="#fff" stroke="#000" stroke-width="0.9"/>
<rect x="490.90" y="265.44" width="3.00" height="3.00" fill="#fff" stroke="#000" stroke-width="0.9"/>
<rect x="548.05" y="281.11" width="3.00" height="3.00" fill="#fff" stroke="#000" stroke-width="0.9"/>
<circle cx="416.20" cy="205.28" r="1.70" fill="#fff" stroke="#000" stroke-width="1.0"/>
<circle cx="435.25" cy="269.13" r="1.70" fill="#fff" stroke="#000" stroke-width="1.0"/>
<circle cx="454.30" cy="283.34" r="1.70" fill="#fff" stroke="#000" stroke-width="1.0"/>
<circle cx="492.40" cy="289.72" r="1.70" fill="#fff" stroke="#000" stroke-width="1.0"/>
<circle cx="549.55" cy="299.23" r="1.70" fill="#fff" stroke="#000" stroke-width="1.0"/>
<line x1="476.20" y1="209.30" x2="493.60" y2="209.30" stroke="#111" stroke-width="1.1"/>
<circle cx="484.90" cy="209.30" r="2.05" fill="#000"/>
<text x="501.80" y="212.50" font-size="9.5" text-anchor="start" font-weight="normal" font-style="normal" fill="#222" >L<tspan font-style="italic">er</tspan></text>
<line x1="476.20" y1="222.57" x2="493.60" y2="222.57" stroke="#111" stroke-width="1.1"/>
<circle cx="484.90" cy="222.57" r="1.70" fill="#fff" stroke="#000" stroke-width="1.0"/>
<text x="501.80" y="225.77" font-size="9.5" text-anchor="start" font-weight="normal" font-style="italic" fill="#222" >sua-1</text>
<line x1="476.20" y1="235.84" x2="493.60" y2="235.84" stroke="#111" stroke-width="1.1"/>
<rect x="482.95" y="233.89" width="3.90" height="3.90" fill="#000"/>
<text x="501.80" y="239.04" font-size="9.5" text-anchor="start" font-weight="normal" font-style="normal" fill="#222" >Col-0</text>
<line x1="476.20" y1="249.11" x2="493.60" y2="249.11" stroke="#111" stroke-width="1.1"/>
<rect x="483.40" y="247.61" width="3.00" height="3.00" fill="#fff" stroke="#000" stroke-width="0.9"/>
<text x="501.80" y="252.31" font-size="9.5" text-anchor="start" font-weight="normal" font-style="italic" fill="#222" >sua-2</text></svg>
</body></html>
